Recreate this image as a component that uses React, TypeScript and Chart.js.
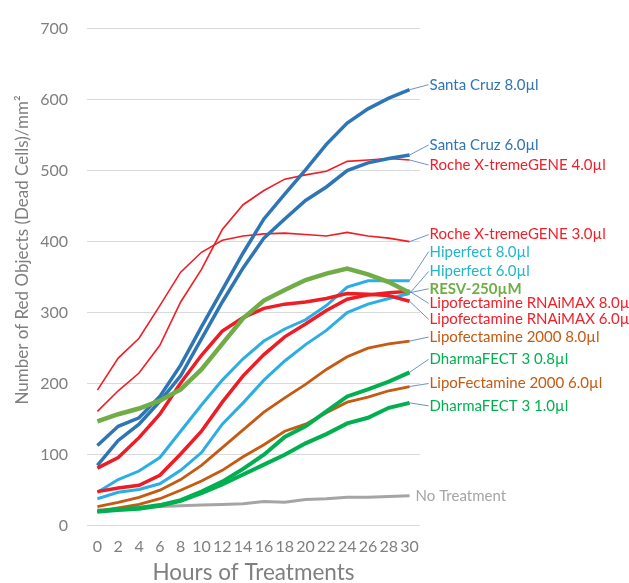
import React, { useEffect, useRef } from 'react';
import { Chart, registerables } from 'chart.js';
Chart.register(...registerables);

const hours = ['0', '2', '4', '6', '8', '10', '12', '14', '16', '18', '20', '22', '24', '26', '28', '30'];

const santaCruz8 = [113, 140, 152, 182, 226, 280, 332, 384, 432, 467, 501, 537, 567, 587, 602, 614];
const santaCruz6 = [85, 120, 143, 175, 211, 263, 315, 363, 405, 432, 458, 477, 500, 511, 517, 522];
const roche4 = [161, 190, 215, 254, 315, 361, 417, 452, 472, 488, 494, 499, 513, 515, 517, 515];
const roche3 = [191, 236, 264, 310, 357, 385, 402, 408, 411, 412, 410, 408, 413, 408, 405, 400];
const hiperfect8 = [47, 65, 77, 96, 133, 170, 205, 235, 260, 277, 290, 310, 336, 345, 345, 345];
const hiperfect6 = [38, 47, 51, 59, 78, 103, 143, 173, 205, 232, 255, 275, 300, 312, 320, 327];
const resv250 = [147, 157, 165, 176, 192, 220, 256, 292, 317, 332, 346, 355, 362, 354, 343, 328];
const rnaiMax8 = [48, 53, 57, 71, 101, 133, 174, 211, 241, 266, 284, 303, 319, 325, 328, 330];
const rnaiMax6 = [81, 96, 124, 157, 201, 240, 274, 293, 306, 312, 315, 320, 327, 326, 324, 316];
const lipo2000_8 = [27, 33, 40, 50, 65, 85, 110, 135, 160, 180, 199, 220, 238, 250, 256, 260];
const dharma08 = [20, 23, 25, 29, 36, 48, 62, 80, 100, 125, 140, 161, 182, 192, 203, 216];
const lipo2000_6 = [20, 25, 30, 38, 50, 63, 78, 97, 114, 133, 143, 159, 174, 181, 190, 196];
const dharma10 = [20, 22, 24, 28, 35, 46, 58, 72, 86, 100, 116, 129, 144, 152, 166, 173];
const noTreatment = [22, 24, 26, 27, 28, 29, 30, 31, 34, 33, 37, 38, 40, 40, 41, 42];

const seriesNames = [
  'Santa Cruz 8.0µl',
  'Santa Cruz 6.0µl',
  'Roche X-tremeGENE 4.0µl',
  'Roche X-tremeGENE 3.0µl',
  'Hiperfect 8.0µl',
  'Hiperfect 6.0µl',
  'RESV-250µM',
  'Lipofectamine RNAiMAX 8.0µl',
  'Lipofectamine RNAiMAX 6.0µl',
  'Lipofectamine 2000 8.0µl',
  'DharmaFECT 3 0.8µl',
  'LipoFectamine 2000 6.0µl',
  'DharmaFECT 3 1.0µl',
  'No Treatment',
];
const seriesData = [
  santaCruz8, santaCruz6, roche4, roche3, hiperfect8, hiperfect6, resv250,
  rnaiMax8, rnaiMax6, lipo2000_8, dharma08, lipo2000_6, dharma10, noTreatment,
];

// styles (kept separate from data)
const lineColors = ['#2E75B6', '#2E75B6', '#F21C24', '#F21C24', '#2BAEE4', '#2BAEE4', '#70AD47', '#EE1C25', '#EE1C25', '#C55A11', '#00B050', '#C55A11', '#00B050', '#A5A5A5'];
const textColors = ['#2E75B6', '#2E75B6', '#F0202A', '#F0202A', '#22B6C8', '#22B6C8', '#70AD47', '#F0202A', '#F0202A', '#C55A11', '#00B050', '#C55A11', '#00B050', '#A5A5A5'];
const lineWidths = [3.5, 3.5, 1.6, 1.6, 3, 3, 4.5, 3.5, 3.5, 2.8, 4, 2.8, 4, 3];
const drawOrder = [4, 5, 11, 12, 7, 8, 0, 6, 3, 9, 1, 10, 2, 13];
const labelDy = [-5, -10, 5, -7, -29, -22, -4, 12, 18, -4, -13, -3, 3, 0];
const labelBold = [false, false, false, false, false, false, true, false, false, false, false, false, false, false];

const FONT = 'Lato, "Open Sans", sans-serif';
const GRAY = '#7F7F7F';

const labelPlugin = {
  id: 'endLabels',
  afterDatasetsDraw(chart: any) {
    const ctx = chart.ctx;
    ctx.save();
    seriesNames.forEach((name, i) => {
      const meta = chart.getDatasetMeta(i);
      const pt = meta.data[meta.data.length - 1];
      if (!pt) return;
      const ly = pt.y + labelDy[i];
      const isLast = i === seriesNames.length - 1;
      const lx = isLast ? pt.x + 6 : pt.x + 20;
      if (!isLast) {
        ctx.strokeStyle = '#5B86C5';
        ctx.lineWidth = 0.9;
        ctx.beginPath();
        ctx.moveTo(pt.x, pt.y);
        ctx.lineTo(lx - 1, ly);
        ctx.stroke();
      }
      ctx.fillStyle = textColors[i];
      ctx.font = `${labelBold[i] ? 'bold ' : ''}15px ${FONT}`;
      ctx.textAlign = 'left';
      ctx.textBaseline = 'middle';
      ctx.fillText(name, lx, ly);
    });
    // axis titles
    const area = chart.chartArea;
    ctx.fillStyle = GRAY;
    ctx.font = `17px ${FONT}`;
    ctx.textAlign = 'center';
    ctx.textBaseline = 'middle';
    ctx.save();
    ctx.translate(23, 250);
    ctx.rotate(-Math.PI / 2);
    ctx.fillText('Number of Red Objects (Dead Cells)/mm²', 0, 0);
    ctx.restore();
    ctx.font = `22.5px ${FONT}`;
    ctx.fillText('Hours of Treatments', (area.left + area.right) / 2, 573);
    ctx.restore();
  },
};

export default function App() {
  const ref = useRef<HTMLCanvasElement>(null);
  useEffect(() => {
    const datasets = seriesNames.map((name, i) => ({
      label: name,
      data: seriesData[i],
      borderColor: lineColors[i],
      backgroundColor: lineColors[i],
      borderWidth: lineWidths[i],
      pointRadius: 0,
      tension: 0,
      fill: false,
      order: drawOrder[i],
    }));
    const chart = new Chart(ref.current as HTMLCanvasElement, {
      type: 'line',
      data: { labels: hours, datasets },
      options: {
        responsive: false,
        animation: false,
        layout: { padding: { left: 0, right: 209, top: 24, bottom: 0 } },
        plugins: { legend: { display: false }, tooltip: { enabled: false } },
        scales: {
          x: {
            offset: true,
            grid: { display: false, drawTicks: false },
            border: { display: false },
            ticks: { color: GRAY, font: { size: 16, family: FONT }, padding: 12, maxRotation: 0, autoSkip: false },
            afterFit: (s: any) => { s.height = 57.3; },
          },
          y: {
            min: 0,
            max: 700,
            ticks: { stepSize: 100, color: GRAY, font: { size: 16, family: FONT }, padding: 19 },
            grid: { color: '#D9D9D9', lineWidth: 1, drawTicks: false },
            border: { display: false },
            afterFit: (s: any) => { s.width = 87; },
          },
        },
      },
      plugins: [labelPlugin],
    } as any);
    return () => chart.destroy();
  }, []);
  return (
    <div style={{ position: 'absolute', left: 0, top: 0, width: 629, height: 583, background: '#fff' }}>
      <canvas ref={ref} width={629} height={583} style={{ display: 'block', width: 629, height: 583 }} />
    </div>
  );
}
